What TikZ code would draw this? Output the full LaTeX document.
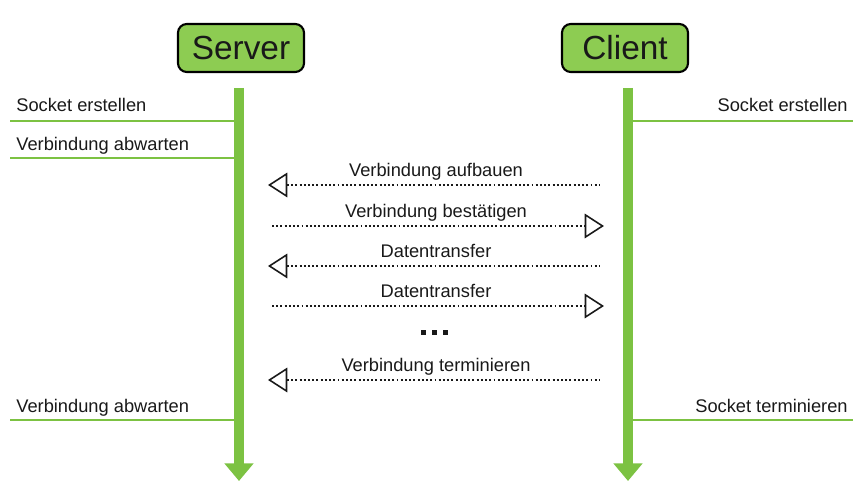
\documentclass[tikz,border=0pt]{standalone}
\usepackage{fontspec}
\setmainfont{Liberation Sans}
\usepackage{xcolor}
\usepackage{tikz}
\usetikzlibrary{arrows.meta,calc,positioning}
\definecolor{lifegreen}{RGB}{124,194,66}
\definecolor{boxgreen}{RGB}{141,204,82}
\definecolor{inkgray}{RGB}{25,25,25}
\tikzset{
  actor/.style={draw=black, line width=1.2pt, rounded corners=5pt, fill=boxgreen,
    minimum width=126*0.02cm, minimum height=48*0.02cm, inner sep=0pt,
    font=\fontsize{19}{22}\selectfont, text=inkgray},
  lifeline/.style={draw=lifegreen, line width=5.6pt,
    -{Triangle[width=16pt, length=10pt]}},
  tagline/.style={draw=lifegreen, line width=1.1pt},
  lbl/.style={font=\fontsize{10.4}{12}\selectfont, text=inkgray, inner sep=0pt},
  msg/.style={dash pattern=on 1.1pt off 1.3pt, line width=1.1pt, inkgray},
  msgL/.style={msg, {Triangle[open, width=14pt, length=11pt, line width=0.9pt]}-},
  msgR/.style={msg, -{Triangle[open, width=14pt, length=11pt, line width=0.9pt]}}
}
\newcommand{\MsgLeft}[3]{% #1=name, #2=y, #3=text
  \coordinate (#1a) at (268,#2);
  \coordinate (#1b) at (600,#2);
  \draw[msgL] (#1a) -- (#1b);
  \node[lbl, anchor=base] (#1t) at (436,#2-8) {#3};
}
\newcommand{\MsgRight}[3]{% #1=name, #2=y, #3=text
  \coordinate (#1a) at (272,#2);
  \coordinate (#1b) at (604,#2);
  \draw[msgR] (#1a) -- (#1b);
  \node[lbl, anchor=base] (#1t) at (436,#2-8) {#3};
}

\begin{document}
\begin{tikzpicture}[x=0.02cm, y=-0.02cm]
  \useasboundingbox (0,0) rectangle (863,482);

  % Server / Client heads
  \node[actor] (server) at (241,48) {Server};
  \node[actor] (client) at (625,48) {Client};

  % lifelines
  \coordinate (sTop) at (239,88);
  \coordinate (sBot) at (239,481);
  \coordinate (cTop) at (628,88);
  \coordinate (cBot) at (628,481);
  \draw[lifeline] (sTop) -- (sBot);
  \draw[lifeline] (cTop) -- (cBot);

  % --- server side steps ---
  \coordinate (s1) at (10,121);
  \coordinate (s2) at (10,158);
  \coordinate (s3) at (10,420);
  \draw[tagline] (s1) -- (s1 -| sTop);
  \draw[tagline] (s2) -- (s2 -| sTop);
  \draw[tagline] (s3) -- (s3 -| sTop);
  \node[lbl, anchor=base west] (s1t) at (16,112) {Socket erstellen};
  \node[lbl, anchor=base west] (s2t) at (16,151) {Verbindung abwarten};
  \node[lbl, anchor=base west] (s3t) at (16,413) {Verbindung abwarten};

  % --- client side steps ---
  \coordinate (c1) at (853,121);
  \coordinate (c3) at (853,420);
  \draw[tagline] (c1 -| cTop) -- (c1);
  \draw[tagline] (c3 -| cTop) -- (c3);
  \node[lbl, anchor=base east] (c1t) at (848,112) {Socket erstellen};
  \node[lbl, anchor=base east] (c3t) at (848,413) {Socket terminieren};

  % messages
  \MsgLeft{m1}{185}{Verbindung aufbauen}
  \MsgRight{m2}{226}{Verbindung bestätigen}
  \MsgLeft{m3}{266}{Datentransfer}
  \MsgRight{m4}{306}{Datentransfer}
  \foreach \x in {423,434,445}{%
    \fill[inkgray] (\x-2.5,330) rectangle (\x+2.5,335);
  }
  \MsgLeft{m5}{380}{Verbindung terminieren}
\end{tikzpicture}
\end{document}
